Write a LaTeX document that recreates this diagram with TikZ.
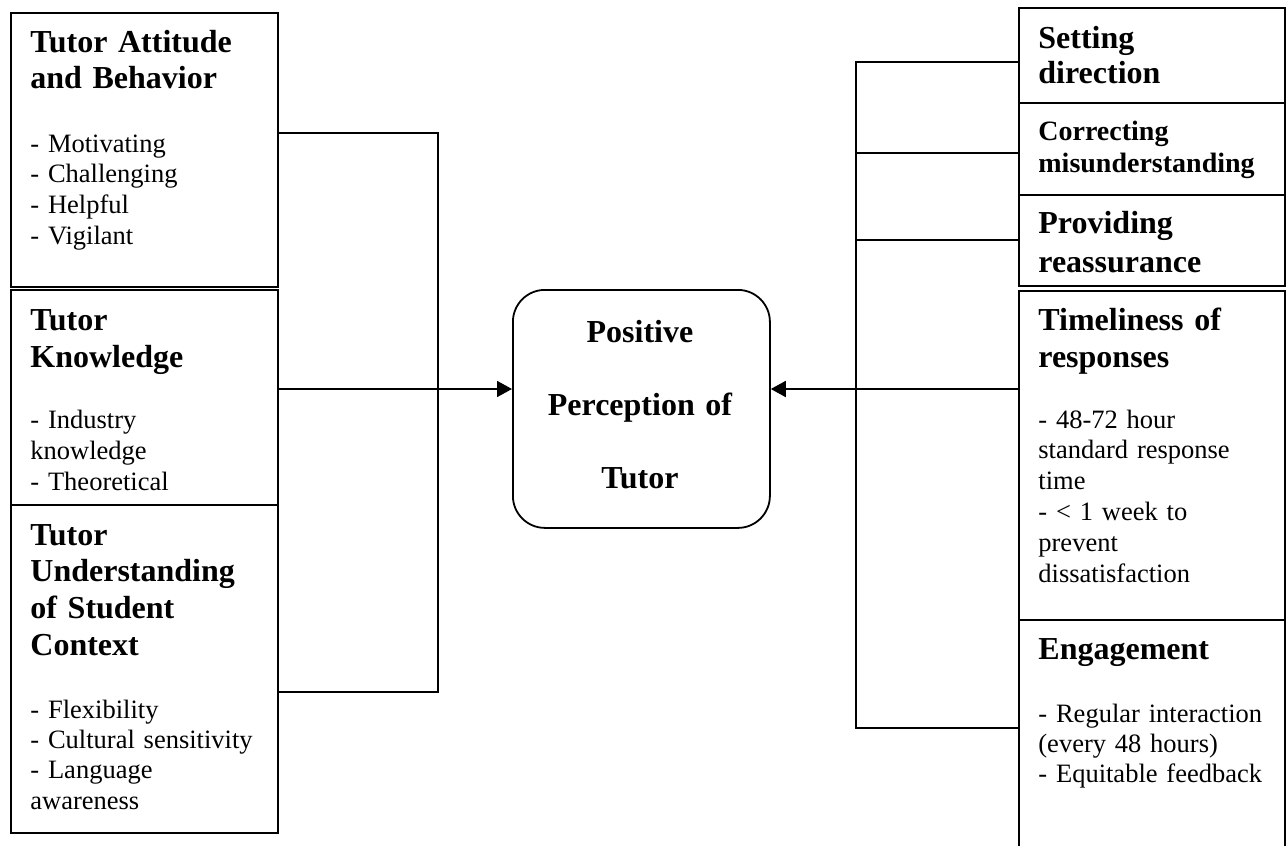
\documentclass[tikz,border=0pt]{standalone}
\usepackage{fontspec}
\setmainfont{Liberation Serif}
\usetikzlibrary{arrows.meta}
\tikzset{
  box/.style={draw,line width=0.9pt,rectangle,inner sep=0pt,anchor=north west,minimum width=#1},
  box/.default=133.5pt,
  head/.style={anchor=base west,inner sep=0pt,text width=128pt,align=left,font=\fontsize{16}{#1}\selectfont\bfseries},
  items/.style={anchor=base west,inner sep=0pt,text width=128pt,align=left,font=\fontsize{13.25}{#1}\selectfont},
  link/.style={line width=0.9pt},
  feed/.style={link,-{Triangle[length=7.5pt,width=8pt]}}
}
\begin{document}
\begin{tikzpicture}[x=0.5pt,y=-0.5pt]
  \useasboundingbox (0,0) rectangle (1286,846);
  \clip (0,0) rectangle (1286,846);
  % left column
  \node[box,minimum height=137pt] (att) at (10,12) {};
  \node[box,minimum height=107.5pt] (know) at (10,289) {};
  \node[box,minimum height=164pt] (ctx) at (10,504) {};
  \node[head=17.5pt] (att-head) at (30,53) {Tutor Attitude\\and Behavior};
  \node[items=15.35pt] (att-list) at (30,152) {- Motivating\\- Challenging\\- Helpful\\- Vigilant};
  \node[head=18.5pt] (know-head) at (30,330) {Tutor\\Knowledge};
  \node[items=15.5pt] (know-list) at (30,428) {- Industry\\knowledge\\- Theoretical};
  \node[head=18.35pt] (ctx-head) at (30,545) {Tutor\\Understanding\\of Student\\Context};
  \node[items=15.2pt] (ctx-list) at (30,718) {- Flexibility\\- Cultural sensitivity\\- Language\\awareness};
  % centre
  \node[draw,line width=0.9pt,rounded corners=16pt,inner sep=0pt,anchor=north west,
        minimum width=128.5pt,minimum height=119pt] (goal) at (512,289) {};
  \node[anchor=base,inner sep=0pt,text width=120pt,align=center,
        font=\fontsize{16}{36.5pt}\selectfont\bfseries] (goal-text) at (640,342) {Positive\\Perception of\\Tutor};
  % right column
  \node[box=133pt,minimum height=47.5pt] (set) at (1018,7) {};
  \node[box=133pt,minimum height=46pt] (corr) at (1018,102) {};
  \node[box=133pt,minimum height=45.5pt] (prov) at (1018,194) {};
  \node[box=133pt,minimum height=164.5pt] (time) at (1018,290) {};
  \node[box=133pt,minimum height=125pt] (eng) at (1018,619) {};
  \node[head=17.5pt] (set-head) at (1038,48) {Setting\\direction};
  \node[head=16.5pt,font=\fontsize{14}{16.5pt}\selectfont\bfseries] (corr-head) at (1038,140) {Correcting\\misunderstanding};
  \node[head=19.5pt] (prov-head) at (1038,233) {Providing\\reassurance};
  \node[head=18.5pt] (time-head) at (1038,330) {Timeliness of\\responses};
  \node[items=15.4pt] (time-list) at (1038,428) {- 48-72 hour\\standard response\\time\\- < 1 week to\\prevent\\dissatisfaction};
  \node[head=17.5pt] (eng-head) at (1038,659) {Engagement};
  \node[items=15pt] (eng-list) at (1038,722) {- Regular interaction\\(every 48 hours)\\- Equitable feedback};
  % brackets
  \coordinate (lt) at (438,133);
  \coordinate (lm) at (438,389);
  \coordinate (lb) at (438,692);
  \coordinate (rt) at (856,62);
  \coordinate (rc) at (856,153);
  \coordinate (rp) at (856,240);
  \coordinate (rm) at (856,389);
  \coordinate (rb) at (856,728);
  \draw[link] (att.east |- lt) -- (lt) -- (lb) -- (ctx.east |- lb);
  \draw[feed] (know.east |- lm) -- (goal.west |- lm);
  \draw[link] (set.west |- rt) -- (rt) -- (rb) -- (eng.west |- rb);
  \draw[link] (rc) -- (corr.west |- rc);
  \draw[link] (rp) -- (prov.west |- rp);
  \draw[feed] (time.west |- rm) -- (goal.east |- rm);
\end{tikzpicture}
\end{document}
